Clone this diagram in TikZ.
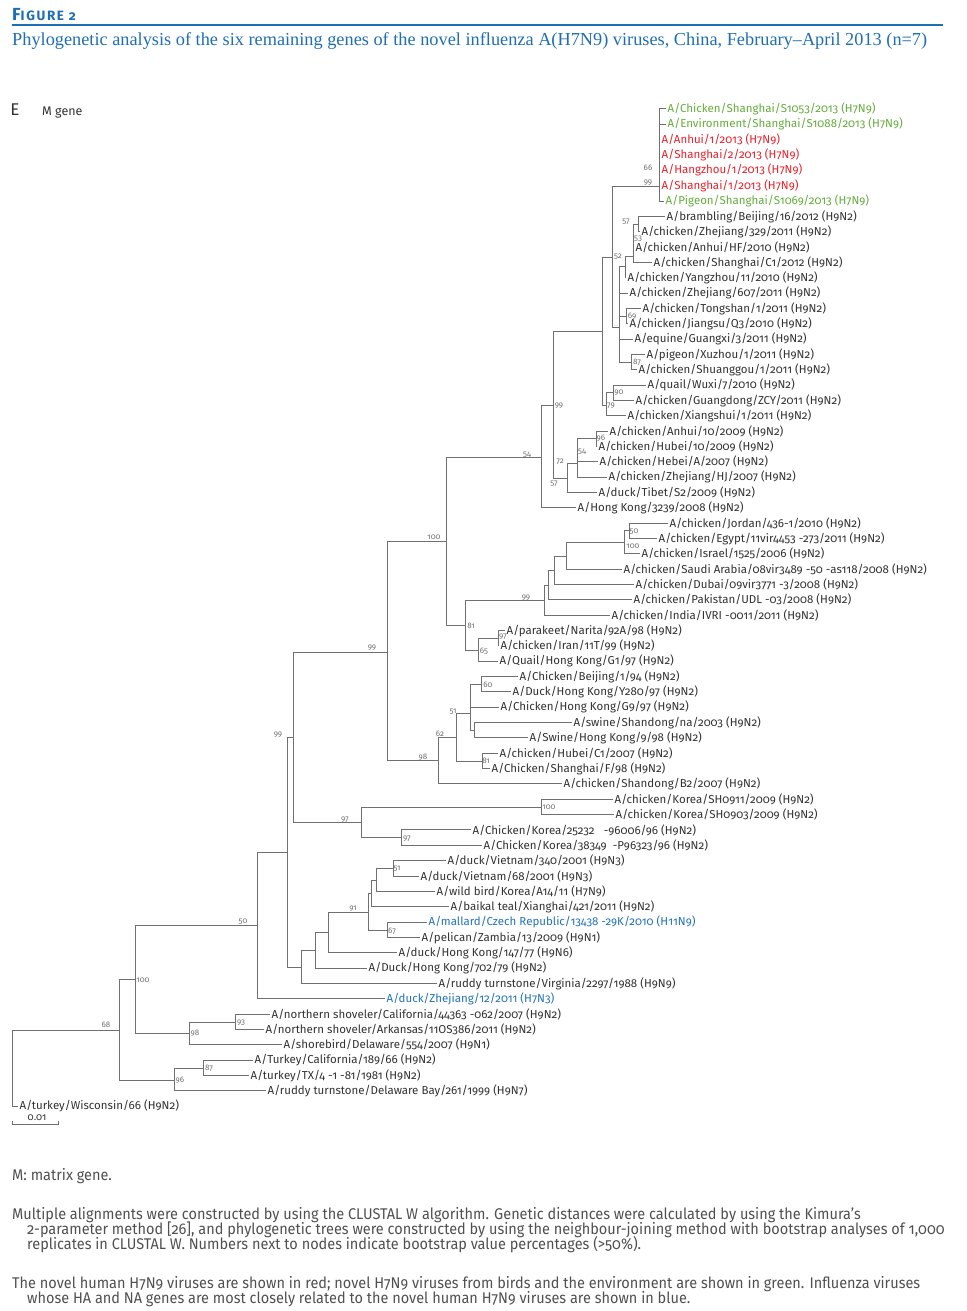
\documentclass[tikz,border=0pt]{standalone}
\usepackage{fontspec}
\setmainfont{Fira Sans}[Numbers=OldStyle]
\newfontfamily\captionfont{Liberation Serif}
\newfontfamily\notefont{Fira Sans}[Numbers=OldStyle,FakeStretch=0.935]
\usepackage{tikz}
\definecolor{euroblue}{RGB}{30,110,180}
\definecolor{humanred}{RGB}{232,32,42}
\definecolor{birdgreen}{RGB}{100,172,60}
\definecolor{hablue}{RGB}{35,115,185}
\definecolor{treegray}{RGB}{112,112,112}
\definecolor{textgray}{RGB}{50,50,50}
\definecolor{notegray}{RGB}{80,80,80}
\tikzset{
    branch/.style={draw=treegray,line width=1pt},
    leaf/.style={anchor=west,inner xsep=1.5pt,inner ysep=0pt,font=\fontsize{11.5}{11.5}\selectfont,text=textgray},
    human/.style={leaf,text=humanred},
    bird/.style={leaf,text=birdgreen},
    related/.style={leaf,text=hablue},
    boot/.style={inner sep=0pt,font=\fontsize{8}{8}\selectfont,text=treegray},
    note/.style={anchor=base west,inner sep=0pt,font=\notefont\fontsize{15.5}{15.5}\selectfont,text=notegray},
}
\newcommand{\ly}[1]{109+15.34*#1}

\begin{document}
\begin{tikzpicture}[x=1pt,y=-1pt]
    \useasboundingbox (0,0) rectangle (966,1311);
    % header
    \node[anchor=base west,inner sep=0pt,text=euroblue,font=\bfseries] (figno) at (12,21) {\addfontfeature{LetterSpace=12}\fontsize{17.5}{17.5}\selectfont F\fontsize{13.5}{13.5}\selectfont IGURE 2};
    \coordinate (rulel) at (12,25);
    \coordinate (ruler) at (943,25);
    \draw[euroblue,line width=1.3pt] (rulel) -- (ruler);
    \node[anchor=base west,inner sep=0pt,text=euroblue,font=\captionfont\fontsize{18.3}{18.3}\selectfont] (caption) at (12,46) {Phylogenetic analysis of the six remaining genes of the novel influenza A(H7N9) viruses, China, February–April 2013 (n=7)};
    \node[inner sep=0pt,text=textgray,font=\fontsize{17}{17}\selectfont] (panel) at (15,110) {E};
    \node[anchor=west,inner sep=0pt,text=textgray,font=\fontsize{12.5}{12.5}\selectfont] (gene) at (42,113) {M gene};

    % leaves
    \node[bird] (l0) at (666,{\ly{0}}) {A/Chicken/Shanghai/S1053/2013 (H7N9)};
    \node[bird] (l1) at (666,{\ly{1}}) {A/Environment/Shanghai/S1088/2013 (H7N9)};
    \node[human] (l2) at (660,{\ly{2}}) {A/Anhui/1/2013 (H7N9)};
    \node[human] (l3) at (660,{\ly{3}}) {A/Shanghai/2/2013 (H7N9)};
    \node[human] (l4) at (660,{\ly{4}}) {A/Hangzhou/1/2013 (H7N9)};
    \node[human] (l5) at (660,{\ly{5}}) {A/Shanghai/1/2013 (H7N9)};
    \node[bird] (l6) at (664,{\ly{6}}) {A/Pigeon/Shanghai/S1069/2013 (H7N9)};
    \node[leaf] (l7) at (665,{\ly{7}}) {A/brambling/Beijing/16/2012 (H9N2)};
    \node[leaf] (l8) at (640,{\ly{8}}) {A/chicken/Zhejiang/329/2011 (H9N2)};
    \node[leaf] (l9) at (634,{\ly{9}}) {A/chicken/Anhui/HF/2010 (H9N2)};
    \node[leaf] (l10) at (652,{\ly{10}}) {A/chicken/Shanghai/C1/2012 (H9N2)};
    \node[leaf] (l11) at (626,{\ly{11}}) {A/chicken/Yangzhou/11/2010 (H9N2)};
    \node[leaf] (l12) at (628,{\ly{12}}) {A/chicken/Zhejiang/607/2011 (H9N2)};
    \node[leaf] (l13) at (641,{\ly{13}}) {A/chicken/Tongshan/1/2011 (H9N2)};
    \node[leaf] (l14) at (628,{\ly{14}}) {A/chicken/Jiangsu/Q3/2010 (H9N2)};
    \node[leaf] (l15) at (633,{\ly{15}}) {A/equine/Guangxi/3/2011 (H9N2)};
    \node[leaf] (l16) at (645,{\ly{16}}) {A/pigeon/Xuzhou/1/2011 (H9N2)};
    \node[leaf] (l17) at (637,{\ly{17}}) {A/chicken/Shuanggou/1/2011 (H9N2)};
    \node[leaf] (l18) at (646,{\ly{18}}) {A/quail/Wuxi/7/2010 (H9N2)};
    \node[leaf] (l19) at (634,{\ly{19}}) {A/chicken/Guangdong/ZCY/2011 (H9N2)};
    \node[leaf] (l20) at (626,{\ly{20}}) {A/chicken/Xiangshui/1/2011 (H9N2)};
    \node[leaf] (l21) at (608,{\ly{21}}) {A/chicken/Anhui/10/2009 (H9N2)};
    \node[leaf] (l22) at (597,{\ly{22}}) {A/chicken/Hubei/10/2009 (H9N2)};
    \node[leaf] (l23) at (598,{\ly{23}}) {A/chicken/Hebei/A/2007 (H9N2)};
    \node[leaf] (l24) at (607,{\ly{24}}) {A/chicken/Zhejiang/HJ/2007 (H9N2)};
    \node[leaf] (l25) at (597,{\ly{25}}) {A/duck/Tibet/S2/2009 (H9N2)};
    \node[leaf] (l26) at (576,{\ly{26}}) {A/Hong Kong/3239/2008 (H9N2)};
    \node[leaf] (l27) at (668,{\ly{27}}) {A/chicken/Jordan/436-1/2010 (H9N2)};
    \node[leaf] (l28) at (657,{\ly{28}}) {A/chicken/Egypt/11vir4453 -273/2011 (H9N2)};
    \node[leaf] (l29) at (640,{\ly{29}}) {A/chicken/Israel/1525/2006 (H9N2)};
    \node[leaf] (l30) at (622,{\ly{30}}) {A/chicken/Saudi Arabia/08vir3489 -50 -as118/2008 (H9N2)};
    \node[leaf] (l31) at (634,{\ly{31}}) {A/chicken/Dubai/09vir3771 -3/2008 (H9N2)};
    \node[leaf] (l32) at (632,{\ly{32}}) {A/chicken/Pakistan/UDL -03/2008 (H9N2)};
    \node[leaf] (l33) at (610,{\ly{33}}) {A/chicken/India/IVRI -0011/2011 (H9N2)};
    \node[leaf] (l34) at (505,{\ly{34}}) {A/parakeet/Narita/92A/98 (H9N2)};
    \node[leaf] (l35) at (499,{\ly{35}}) {A/chicken/Iran/11T/99 (H9N2)};
    \node[leaf] (l36) at (498,{\ly{36}}) {A/Quail/Hong Kong/G1/97 (H9N2)};
    \node[leaf] (l37) at (518,{\ly{37}}) {A/Chicken/Beijing/1/94 (H9N2)};
    \node[leaf] (l38) at (511,{\ly{38}}) {A/Duck/Hong Kong/Y280/97 (H9N2)};
    \node[leaf] (l39) at (499,{\ly{39}}) {A/Chicken/Hong Kong/G9/97 (H9N2)};
    \node[leaf] (l40) at (572,{\ly{40}}) {A/swine/Shandong/na/2003 (H9N2)};
    \node[leaf] (l41) at (528,{\ly{41}}) {A/Swine/Hong Kong/9/98 (H9N2)};
    \node[leaf] (l42) at (498,{\ly{42}}) {A/chicken/Hubei/C1/2007 (H9N2)};
    \node[leaf] (l43) at (490,{\ly{43}}) {A/Chicken/Shanghai/F/98 (H9N2)};
    \node[leaf] (l44) at (562,{\ly{44}}) {A/chicken/Shandong/B2/2007 (H9N2)};
    \node[leaf] (l45) at (613,{\ly{45}}) {A/chicken/Korea/SH0911/2009 (H9N2)};
    \node[leaf] (l46) at (614,{\ly{46}}) {A/chicken/Korea/SH0903/2009 (H9N2)};
    \node[leaf] (l47) at (471,{\ly{47}}) {A/Chicken/Korea/25232\ \ \ -96006/96 (H9N2)};
    \node[leaf] (l48) at (482,{\ly{48}}) {A/Chicken/Korea/38349\ \ -P96323/96 (H9N2)};
    \node[leaf] (l49) at (446,{\ly{49}}) {A/duck/Vietnam/340/2001 (H9N3)};
    \node[leaf] (l50) at (419,{\ly{50}}) {A/duck/Vietnam/68/2001 (H9N3)};
    \node[leaf] (l51) at (435,{\ly{51}}) {A/wild bird/Korea/A14/11 (H7N9)};
    \node[leaf] (l52) at (449,{\ly{52}}) {A/baikal teal/Xianghai/421/2011 (H9N2)};
    \node[related] (l53) at (427,{\ly{53}}) {A/mallard/Czech Republic/13438 -29K/2010 (H11N9)};
    \node[leaf] (l54) at (420,{\ly{54}}) {A/pelican/Zambia/13/2009 (H9N1)};
    \node[leaf] (l55) at (397,{\ly{55}}) {A/duck/Hong Kong/147/77 (H9N6)};
    \node[leaf] (l56) at (367,{\ly{56}}) {A/Duck/Hong Kong/702/79 (H9N2)};
    \node[leaf] (l57) at (437,{\ly{57}}) {A/ruddy turnstone/Virginia/2297/1988 (H9N9)};
    \node[related] (l58) at (385,{\ly{58}}) {A/duck/Zhejiang/12/2011 (H7N3)};
    \node[leaf] (l59) at (270,{\ly{59}}) {A/northern shoveler/California/44363 -062/2007 (H9N2)};
    \node[leaf] (l60) at (264,{\ly{60}}) {A/northern shoveler/Arkansas/11OS386/2011 (H9N2)};
    \node[leaf] (l61) at (282,{\ly{61}}) {A/shorebird/Delaware/554/2007 (H9N1)};
    \node[leaf] (l62) at (253,{\ly{62}}) {A/Turkey/California/189/66 (H9N2)};
    \node[leaf] (l63) at (249,{\ly{63}}) {A/turkey/TX/4 -1 -81/1981 (H9N2)};
    \node[leaf] (l64) at (266,{\ly{64}}) {A/ruddy turnstone/Delaware Bay/261/1999 (H9N7)};
    \node[leaf] (l65) at (18,{\ly{65}}) {A/turkey/Wisconsin/66 (H9N2)};

    % internal nodes
    \coordinate (h7) at (659,186);
    \coordinate (x1) at (638,224);
    \coordinate (x2) at (633,256);
    \coordinate (x3) at (625,266);
    \coordinate (g) at (619,327);
    \coordinate (n69) at (626,316);
    \coordinate (n87) at (631,362);
    \coordinate (n612) at (612,257);
    \coordinate (n90) at (613,392.5);
    \coordinate (n79) at (606,405);
    \coordinate (n602) at (602,331);
    \coordinate (n96) at (596,438.5);
    \coordinate (n54) at (577,463);
    \coordinate (n72) at (567,478);
    \coordinate (n553) at (553,405);
    \coordinate (n541) at (541,457);
    \coordinate (n50) at (629,530.5);
    \coordinate (n100b) at (624.5,542);
    \coordinate (na) at (566,556);
    \coordinate (nb) at (554.5,570);
    \coordinate (nc) at (548,585);
    \coordinate (n99d) at (544,600);
    \coordinate (n97a) at (498,638.5);
    \coordinate (n65) at (478,650);
    \coordinate (n81a) at (465,625.5);
    \coordinate (n100a) at (446,541.5);
    \coordinate (n60) at (481,684.5);
    \coordinate (n51) at (470,713);
    \coordinate (nsw) at (474,730.5);
    \coordinate (n81b) at (482,761);
    \coordinate (n62) at (456,737);
    \coordinate (n98a) at (438,760.5);
    \coordinate (n387) at (387,652);
    \coordinate (n100c) at (541,807);
    \coordinate (n97c) at (401,837.5);
    \coordinate (n97b) at (361,822);
    \coordinate (n293) at (293,737);
    \coordinate (n51b) at (393,868.5);
    \coordinate (n376) at (376,880);
    \coordinate (n371) at (371,893);
    \coordinate (n67) at (387,930);
    \coordinate (n367) at (368,912);
    \coordinate (n328) at (328,932);
    \coordinate (n315) at (315,950);
    \coordinate (n301) at (301,967);
    \coordinate (n287) at (287,852);
    \coordinate (n257) at (257.5,925.5);
    \coordinate (n93) at (235.5,1022);
    \coordinate (n98b) at (189.5,1033);
    \coordinate (n100d) at (135.5,979.5);
    \coordinate (n87b) at (203.5,1068);
    \coordinate (n96b) at (174,1080);
    \coordinate (n68) at (119.5,1030);
    \coordinate (root) at (12.6,1068);

    % branches
    \foreach \p/\c in {h7/l0,h7/l1,h7/l2,h7/l3,h7/l4,h7/l5,h7/l6,
        x1/l7,x1/l8,x2/x1,x2/l9,x2/l10,x3/x2,x3/l11,
        g/x3,g/l12,g/n69,g/l15,g/n87,n69/l13,n69/l14,n87/l16,n87/l17,
        n612/h7,n612/g,n90/l18,n90/l19,n79/n90,n79/l20,n602/n612,n602/n79,
        n96/l21,n96/l22,n54/n96,n54/l23,n54/l24,n72/n54,n72/l25,
        n553/n602,n553/n72,n541/n553,n541/l26,
        n50/l27,n50/l28,n100b/n50,n100b/l29,na/n100b,na/l30,nb/na,nb/l31,
        nc/nb,nc/l32,n99d/nc,n99d/l33,
        n97a/l34,n97a/l35,n65/n97a,n65/l36,n81a/n99d,n81a/n65,
        n100a/n541,n100a/n81a,
        n60/l37,n60/l38,nsw/l40,nsw/l41,n51/n60,n51/l39,n51/nsw,
        n81b/l42,n81b/l43,n62/n51,n62/n81b,n98a/n62,n98a/l44,
        n387/n100a,n387/n98a,
        n100c/l45,n100c/l46,n97c/l47,n97c/l48,n97b/n100c,n97b/n97c,
        n293/n387,n293/n97b,
        n51b/l49,n51b/l50,n376/n51b,n376/l51,n371/n376,n371/l52,
        n67/l53,n67/l54,n367/n371,n367/n67,n328/n367,n328/l55,
        n315/n328,n315/l56,n301/n315,n301/l57,
        n287/n293,n287/n301,n257/n287,n257/l58,
        n93/l59,n93/l60,n98b/n93,n98b/l61,n100d/n257,n100d/n98b,
        n87b/l62,n87b/l63,n96b/n87b,n96b/l64,n68/n100d,n68/n96b,
        root/n68,root/l65}
        \draw[branch] (\p) |- (\c);

    % bootstrap values
    \foreach \n/\x/\y/\v in {1/648/168/66,2/648/183/99,3/626/222/57,4/638/239/53,
        5/618/257/52,6/632/316/69,7/637/362/87,8/619/393/90,9/611/406/79,
        10/559/406/99,11/601/438/96,12/582/452/54,13/560/462/72,14/554/484/57,
        15/527/455/54,16/434/537/100,17/634/532/50,18/633/546/100,19/526/598/99,
        20/471/626/81,21/503/637/97,22/484/651/65,23/488/685/60,24/453/712/51,
        25/440/734/62,26/486/761/81,27/423/757/98,28/372/648/99,29/278/735/99,
        30/549/807/100,31/345/820/97,32/407/839/97,33/397/869/51,34/353/909/91,
        35/392/931/67,36/243/922/50,37/143/980/100,38/241/1023/93,39/195/1033/98,
        40/106/1025/68,41/209/1068/87,42/180/1080/96}
        \node[boot] (bs\n) at (\x,\y) {\v};

    % scale bar
    \coordinate (sbl) at (12.6,1124);
    \coordinate (sbr) at (58,1124);
    \draw[branch,line width=0.9pt] ([yshift=3pt]sbl) -- (sbl) -- (sbr) -- ([yshift=3pt]sbr);
    \node[boot,text=textgray,font=\fontsize{10}{10}\selectfont] (sblabel) at (37,1118) {0.01};

    % notes
    \node[note] (n1) at (12,1180) {M: matrix gene.};
    \node[note] (n2) at (12,1219) {Multiple alignments were constructed by using the CLUSTAL W algorithm. Genetic distances were calculated by using the Kimura’s};
    \node[note] (n3) at (27,1234) {2-parameter method [26], and phylogenetic trees were constructed by using the neighbour-joining method with bootstrap analyses of 1,000};
    \node[note] (n4) at (27,1249) {replicates in CLUSTAL W. Numbers next to nodes indicate bootstrap value percentages (>50\%).};
    \node[note] (n5) at (12,1288) {The novel human H7N9 viruses are shown in red; novel H7N9 viruses from birds and the environment are shown in green. Influenza viruses};
    \node[note] (n6) at (27,1303) {whose HA and NA genes are most closely related to the novel human H7N9 viruses are shown in blue.};
\end{tikzpicture}
\end{document}
